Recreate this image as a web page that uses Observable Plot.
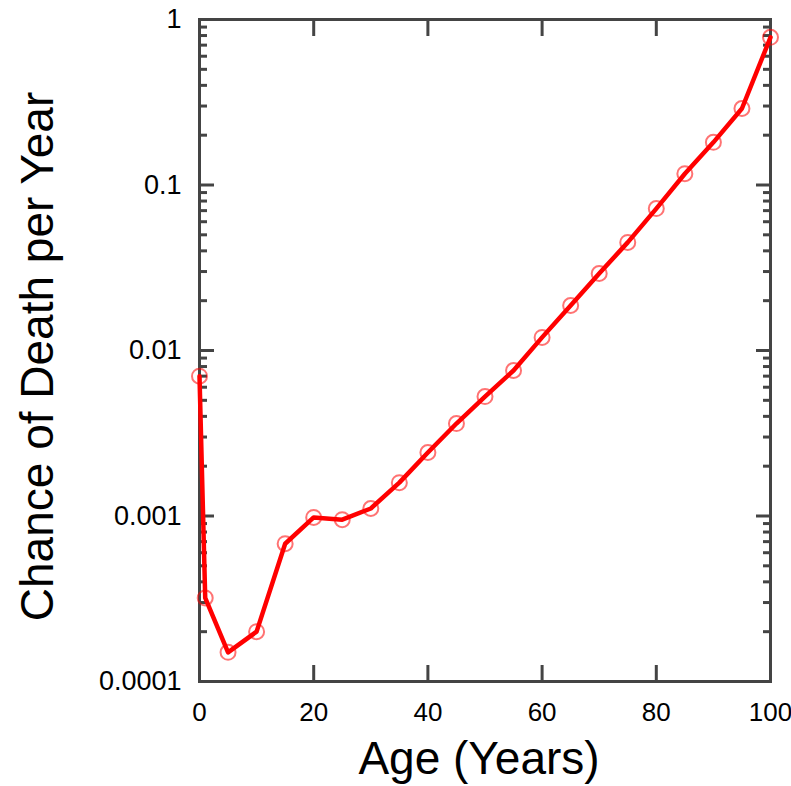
<!DOCTYPE html>
<html>
<head>
<meta charset="utf-8">
<script src="https://cdn.jsdelivr.net/npm/d3@7"></script>
<script src="https://cdn.jsdelivr.net/npm/@observablehq/plot@0.6"></script>
<style>
  html, body { margin: 0; padding: 0; background: #fff; }
  svg { display: block; }
</style>
</head>
<body>
<div id="chart"></div>
<script>
// Data
const ages = [0, 1, 5, 10, 15, 20, 25, 30, 35, 40, 45, 50, 55, 60, 65, 70, 75, 80, 85, 90, 95, 100];
const deathChance = [0.0070, 0.00032, 0.00015, 0.00020, 0.00068, 0.00098, 0.00095, 0.00111, 0.00159, 0.00242,
  0.00362, 0.00527, 0.00757, 0.0120, 0.0187, 0.0292, 0.0450, 0.072, 0.117, 0.181, 0.290, 0.78];

// Axis ticks
const xTickValues = [0, 20, 40, 60, 80, 100];
const xInnerTicks = [20, 40, 60, 80];
const yMajorTicks = [0.0001, 0.001, 0.01, 0.1, 1];
const yTickLabels = ["0.0001", "0.001", "0.01", "0.1", "1"];
const yMinorMultipliers = [2, 3, 4, 5, 6, 7, 8, 9];
const yDecades = [0.0001, 0.001, 0.01, 0.1];
const yMinorTicks = yDecades.flatMap(d => yMinorMultipliers.map(m => +(m * d).toPrecision(3)));

const xLabel = "Age (Years)";
const yLabel = "Chance of Death per Year";

const data = ages.map((a, i) => ({age: a, p: deathChance[i]}));

const frameColor = "#444";
const font = "'Liberation Sans', Arial, Helvetica, sans-serif";

const chart = Plot.plot({
  width: 791,
  height: 786,
  marginLeft: 199,
  marginRight: 21,
  marginTop: 19,
  marginBottom: 105,
  style: {fontFamily: font, background: "#fff", color: "#000"},
  x: {domain: [0, 100]},
  y: {type: "log", domain: [0.0001, 1]},
  marks: [
    // y inner ticks (left + right)
    Plot.axisY({anchor: "left", ticks: yMajorTicks, tickSize: -15, fill: "none", stroke: frameColor, strokeWidth: 3, label: null}),
    Plot.axisY({anchor: "left", ticks: yMinorTicks, tickSize: -8, fill: "none", stroke: frameColor, strokeWidth: 3, label: null}),
    Plot.axisY({anchor: "right", ticks: yMajorTicks, tickSize: -15, fill: "none", stroke: frameColor, strokeWidth: 3, label: null}),
    Plot.axisY({anchor: "right", ticks: yMinorTicks, tickSize: -8, fill: "none", stroke: frameColor, strokeWidth: 3, label: null}),
    // x inner ticks (bottom + top)
    Plot.axisX({anchor: "bottom", ticks: xInnerTicks, tickSize: -16, fill: "none", stroke: frameColor, strokeWidth: 3, label: null}),
    Plot.axisX({anchor: "top", ticks: xInnerTicks, tickSize: -16, fill: "none", stroke: frameColor, strokeWidth: 3, label: null}),
    // tick labels
    Plot.axisY({anchor: "left", ticks: yMajorTicks, tickSize: 0, tickPadding: 18,
      tickFormat: d => yTickLabels[yMajorTicks.indexOf(d)], fontSize: 27, fill: "#000", label: null}),
    Plot.axisX({anchor: "bottom", ticks: xTickValues, tickSize: 0, tickPadding: 21,
      tickFormat: d => String(d), fontSize: 26, fill: "#000", label: null}),
    // frame
    Plot.frame({stroke: frameColor, strokeWidth: 3}),
    // data
    Plot.line(data, {x: "age", y: "p", stroke: "#ff0000", strokeWidth: 4.5, curve: "linear"}),
    Plot.dot(data, {x: "age", y: "p", r: 7.5, stroke: "#ff0000", strokeOpacity: 0.55, strokeWidth: 2, fill: "none"}),
    // axis titles
    Plot.text([xLabel], {frameAnchor: "bottom", lineAnchor: "middle", textAnchor: "middle", dx: -6, dy: 78, fontSize: 46, fill: "#000", text: d => d}),
    Plot.text([yLabel], {frameAnchor: "left", lineAnchor: "middle", textAnchor: "middle", dx: -161, dy: 6, rotate: -90, fontSize: 46, fill: "#000", text: d => d})
  ]
});

document.getElementById("chart").appendChild(chart);
</script>
</body>
</html>
